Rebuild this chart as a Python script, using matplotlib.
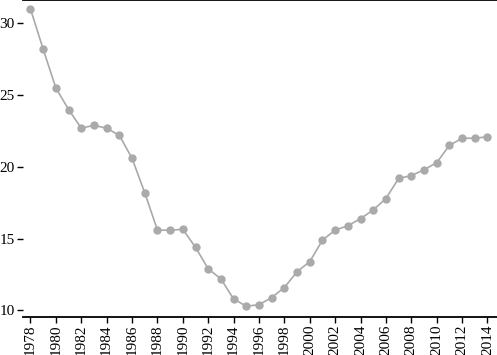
import matplotlib
matplotlib.use("Agg")
import matplotlib.pyplot as plt

# values
years = list(range(1978, 2015))
values = [31.0, 28.2, 25.5, 24.0, 22.7, 22.9, 22.7, 22.2, 20.6, 18.2,
          15.6, 15.6, 15.65, 14.4, 12.9, 12.2, 10.8, 10.3, 10.4, 10.9,
          11.6, 12.7, 13.4, 14.9, 15.6, 15.9, 16.4, 17.0, 17.8, 19.2,
          19.4, 19.8, 20.3, 21.5, 22.0, 22.0, 22.1]
x_ticks = list(range(1978, 2015, 2))
y_ticks = [10, 15, 20, 25, 30]

plt.rcParams['font.family'] = ['Liberation Serif', 'DejaVu Serif']

fig = plt.figure(figsize=(4.97, 3.55), dpi=100)
ax = fig.add_axes([22.5 / 497, 1 - 316.5 / 355, (497 - 22.5) / 497, 316.5 / 355])

ax.plot(years, values, color='#a9a9a9', lw=1.2, marker='o', ms=5,
        markerfacecolor='#aaaaaa', markeredgecolor='#aaaaaa', clip_on=False)

ax.set_xlim(1977.37, 2014.75)
ax.set_ylim(9.58, 31.63)
ax.set_xticks(x_ticks)
ax.set_xticklabels([str(y) for y in x_ticks], rotation=90)
ax.set_yticks(y_ticks)

ax.spines['left'].set_visible(False)
ax.spines['right'].set_visible(False)
ax.spines['top'].set_linewidth(1.3)
ax.spines['bottom'].set_linewidth(1.3)
ax.tick_params(axis='both', labelsize=11, length=4, width=1, pad=1.5)

fig.savefig('out.png', dpi=100)
